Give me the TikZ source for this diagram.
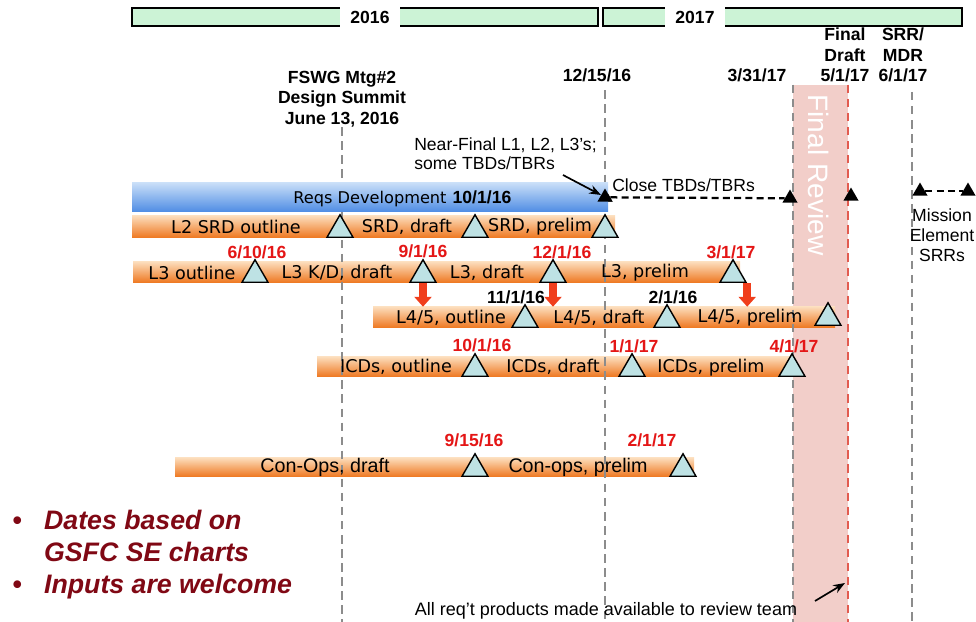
\documentclass[tikz,border=0pt]{standalone}
\usepackage{fontspec}
\setmainfont{Liberation Sans}
\newfontfamily\barfont{DejaVu Sans}
\usepackage{tikz}
\usetikzlibrary{shapes.geometric, arrows.meta, fit}

\definecolor{mint}{RGB}{204,243,214}
\definecolor{tri}{RGB}{190,226,228}
\definecolor{band}{RGB}{242,206,201}
\definecolor{vgray}{RGB}{140,140,140}
\definecolor{vred}{RGB}{226,92,80}
\definecolor{datered}{RGB}{228,22,22}
\definecolor{notered}{RGB}{128,8,20}
\definecolor{arrred}{RGB}{240,62,28}
\definecolor{orTop}{RGB}{252,220,186}
\definecolor{orMid}{RGB}{247,158,78}
\definecolor{orBot}{RGB}{238,118,30}
\definecolor{blTop}{RGB}{200,222,248}
\definecolor{blBot}{RGB}{78,140,228}

\begin{document}
\begin{tikzpicture}[>=Stealth, x=0.025cm, y=-0.025cm,
    obar/.style={inner sep=0, top color=orTop, middle color=orMid, bottom color=orBot},
    ms/.style={regular polygon, regular polygon sides=3, draw, fill=tri, line width=1pt, inner sep=0, minimum size=0.75cm, anchor=side 2},
    bms/.style={regular polygon, regular polygon sides=3, fill=black, inner sep=0, minimum size=0.44cm, anchor=side 2},
    btxt/.style={font=\barfont\fontsize{12.5}{15}\selectfont, inner sep=0},
    rdate/.style={font=\bfseries\fontsize{12.5}{15}\selectfont, text=datered, inner sep=0},
    kdate/.style={font=\bfseries\fontsize{12.5}{15}\selectfont, inner sep=0},
    toplbl/.style={font=\bfseries\fontsize{12.5}{14.6}\selectfont, align=center, inner sep=0},
    vline/.style={vgray, line width=1.2pt, dash pattern=on 6pt off 4pt},
    redarr/.style={arrred, line width=5.5pt, -{Triangle[width=12pt,length=7pt]}},
    kdash/.style={black, line width=1.6pt, dash pattern=on 5pt off 3pt}]
        \useasboundingbox (0,0) rectangle (976,622);
        \coordinate (bot) at (0,622);

        % year bars
        \draw[fill=mint, line width=1pt] (132,8) rectangle (598,26);
        \draw[fill=mint, line width=1pt] (603,8) rectangle (962,26);
        \node[fill=white, inner sep=0, minimum width=1.5cm, minimum height=0.6cm, font=\bfseries\fontsize{12.5}{15}\selectfont] (y16) at (370,17) {2016};
        \node[fill=white, inner sep=0, minimum width=1.5cm, minimum height=0.6cm, font=\bfseries\fontsize{12.5}{15}\selectfont] (y17) at (695,17) {2017};

        % final review band
        \node[fill=band, inner sep=0, fit={(793,85) (848,622)}] (rev) {};
        \node[rotate=-90, text=white, font=\fontsize{20}{24}\selectfont, inner sep=0] (revtxt) at (819,175) {Final Review};

        % orange bars
        \node[obar, fit={(132,216) (615,238)}] (srd) {};
        \node[obar, fit={(133,262) (740,283)}] (l3) {};
        \node[obar, fit={(373,307) (835,328)}] (l45) {};
        \node[obar, fit={(317,357) (795,377)}] (icd) {};
        \node[obar, fit={(175,458) (694,477)}] (con) {};

        % top labels and milestone lines
        \node[toplbl] (fswg) at (342,99) {FSWG Mtg\#2\\Design Summit\\June 13, 2016};
        \node[toplbl] (d1215) at (597,75) {12/15/16};
        \node[toplbl] (d0331) at (757,75) {3/31/17};
        \node[toplbl] (fdraft) at (845,55) {Final\\Draft\\5/1/17};
        \node[toplbl] (srr) at (903,55) {SRR/\\MDR\\6/1/17};
        \coordinate (m6) at (912,92);

        \node[bms] (t0) at (605,202) {};
        \draw[vline] (fswg.south) -- (fswg.south |- bot);
        \draw[vline, shorten <=6pt] (d1215.south -| t0) -- (t0 |- bot);
        \draw[vline] (rev.north west) -- (rev.south west);
        \draw[vline, vred] (rev.north east) -- (rev.south east);
        \draw[vline] (m6) -- (m6 |- bot);

        % reqs development
        \node[inner sep=0, top color=blTop, bottom color=blBot, fit={(132,183) (608,212)}] (reqs) {};
        \node[btxt, font=\barfont\fontsize{11.5}{14}\selectfont] (reqstxt) at (370,199) {Reqs Development};
        \node[kdate] (d1001) at (482,197) {10/1/16};
        \node[bms] (t0) at (605,202) {};
        \node[bms] (t1) at (790,203) {};
        \node[bms] (t2) at (851,201) {};
        \node[bms] (t3) at (920,196) {};
        \node[bms] (t4) at (968,196) {};
        \draw[kdash] (t0) -- (t1);
        \draw[kdash] (t3) -- (t4);
        \node[anchor=west, inner sep=0, font=\fontsize{12.5}{15}\selectfont] (close) at (612,185) {Close TBDs/TBRs};
        \node[align=center, inner sep=0, font=\fontsize{12.5}{14.2}\selectfont] (mission) at (942,235) {Mission\\Element\\SRRs};
        \node[anchor=west, align=left, inner sep=0, font=\fontsize{12.5}{13.5}\selectfont] (near) at (414,154) {Near-Final L1, L2, L3's;\\some TBDs/TBRs};
        \coordinate (na) at (563,175);
        \draw[->, line width=1.2pt] (na) -- (t0.side 1);

        % L2 SRD
        \node[btxt] (srd1) at (236,227) {L2 SRD outline};
        \node[btxt] (srd2) at (407,227) {SRD, draft};
        \node[btxt] (srd3) at (540,227) {SRD, prelim};
        \node[ms] (sa) at (340,238) {};
        \node[ms] (sb) at (475,238) {};
        \node[ms] (sc) at (605,238) {};

        % L3
        \node[btxt] (l3t1) at (192,273) {L3 outline};
        \node[btxt] (l3t2) at (337,273) {L3 K/D, draft};
        \node[btxt] (l3t3) at (487,273) {L3, draft};
        \node[btxt] (l3t4) at (645,273) {L3, prelim};
        \node[ms] (la) at (255,283) {};
        \node[ms] (lb) at (423,283) {};
        \node[ms] (lc) at (553,283) {};
        \node[ms] (ld) at (733,283) {};
        \node[rdate] (dla) at (257,252) {6/10/16};
        \node[rdate] (dlb) at (423,251) {9/1/16};
        \node[rdate] (dlc) at (562,252) {12/1/16};
        \node[rdate] (dld) at (731,252) {3/1/17};

        \draw[redarr] (lb.side 2) -- (lb.side 2 |- l45.north);
        \draw[redarr] (lc.side 2) -- (lc.side 2 |- l45.north);
        \draw[redarr] (ld.corner 3) -- (ld.corner 3 |- l45.north);

        % L4/5
        \node[btxt] (l45t1) at (451,318) {L4/5, outline};
        \node[btxt] (l45t2) at (599,318) {L4/5, draft};
        \node[btxt] (l45t3) at (750,318) {L4/5, prelim};
        \node[ms] (fa) at (525,328) {};
        \node[ms] (fb) at (667,328) {};
        \node[ms] (fc) at (828,326) {};
        \node[kdate] (dfa) at (516,297) {11/1/16};
        \node[kdate] (dfb) at (673,297) {2/1/16};

        % ICDs
        \node[btxt] (icdt1) at (396,367) {ICDs, outline};
        \node[btxt] (icdt2) at (553,367) {ICDs, draft};
        \node[btxt] (icdt3) at (711,368) {ICDs, prelim};
        \node[ms] (ia) at (475,377) {};
        \node[ms] (ib) at (632,377) {};
        \node[ms] (ic) at (792,377) {};
        \node[rdate] (dia) at (482,345) {10/1/16};
        \node[rdate] (dib) at (634,346) {1/1/17};
        \node[rdate] (dic) at (794,346) {4/1/17};

        % Con-Ops
        \node[inner sep=0, font=\fontsize{14}{16}\selectfont] (cont1) at (325,467) {Con-Ops, draft};
        \node[inner sep=0, font=\fontsize{14}{16}\selectfont] (cont2) at (578,467) {Con-ops, prelim};
        \node[ms] (ca) at (475,477) {};
        \node[ms] (cb) at (683,477) {};
        \node[rdate] (dca) at (474,440) {9/15/16};
        \node[rdate] (dcb) at (652,440) {2/1/17};

        % notes
        \node[anchor=west, inner sep=0, text=notered, font=\bfseries\itshape\fontsize{19}{23}\selectfont] (notes) at (12,555)
          {\begin{tabular}{@{}l@{\hspace{16pt}}l@{}}\textbullet & Dates based on\\ & GSFC SE charts\\ \textbullet & Inputs are welcome\end{tabular}};
        \node[inner sep=0, font=\fontsize{12.8}{15}\selectfont] (allreq) at (606,611) {All req't products made available to review team};
        \coordinate (pa) at (815,601);
        \coordinate (pb) at (845,583);
        \draw[->, line width=1.2pt] (pa) -- (pb);
      \end{tikzpicture}
\end{document}
